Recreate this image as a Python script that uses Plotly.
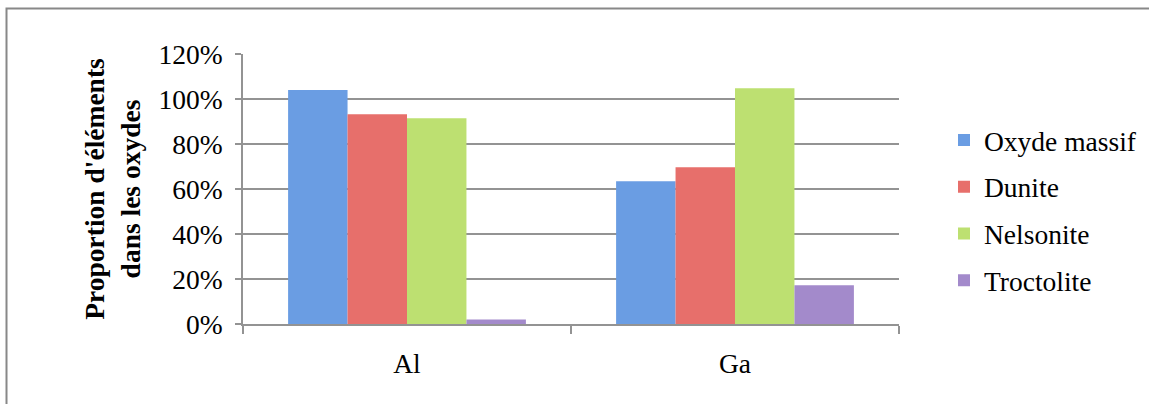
import plotly.graph_objects as go

# Elements and oxide-hosted proportions per rock type
elements = ["Al", "Ga"]
oxyde_massif = [1.04, 0.635]
dunite = [0.932, 0.697]
nelsonite = [0.915, 1.048]
troctolite = [0.02, 0.172]

series_names = ["Oxyde massif", "Dunite", "Nelsonite", "Troctolite"]
series_values = [oxyde_massif, dunite, nelsonite, troctolite]
series_colors = ["#6a9de3", "#e76f6b", "#bde071", "#a38acb"]

y_ticks = [0, 0.2, 0.4, 0.6, 0.8, 1.0, 1.2]

FONT = "Liberation Serif"
FS = 27.5
W, H = 1149, 404
ML, MR, MT, MB = 243, 250, 54, 80

fig = go.Figure()
for i, (name, vals, col) in enumerate(zip(series_names, series_values, series_colors)):
    fig.add_trace(go.Bar(
        x=elements, y=vals, name=name,
        marker=dict(color=col, line=dict(width=0)),
        legendgroup=f"g{i}",
    ))

pw = W - ML - MR
ph = H - MT - MB
# outer frame of the chart
fig.add_shape(type="rect", xref="paper", yref="paper",
              x0=(6.5 - ML) / pw, x1=(1170 - ML) / pw,
              y0=(H - MB - 420) / ph, y1=(H - MB - 8.5) / ph,
              line=dict(color="#888888", width=2), layer="below")

fig.update_layout(
    width=W, height=H,
    margin=dict(l=ML, r=MR, t=MT, b=MB, autoexpand=False),
    paper_bgcolor="white", plot_bgcolor="white",
    barmode="group", bargap=0.275, bargroupgap=0,
    font=dict(family=FONT, size=FS, color="black"),
    legend=dict(x=(944 - ML) / pw, y=(H - MB - 210) / ph,
                xanchor="left", yanchor="middle",
                font=dict(family=FONT, size=FS), tracegroupgap=8,
                itemwidth=30, bgcolor="rgba(0,0,0,0)"),
    showlegend=True,
)
fig.update_yaxes(
    range=[0, 1.2], tickvals=y_ticks, tickformat=".0%",
    showgrid=True, gridcolor="#939393", gridwidth=1.5,
    showline=True, linecolor="#939393", linewidth=1.5,
    ticks="outside", ticklen=6, tickcolor="#939393", tickwidth=1.5,
    ticklabelstandoff=7,
    title=dict(text="<b>Proportion d'éléments<br>dans les oxydes</b>",
               font=dict(family=FONT, size=FS), standoff=10),
    zeroline=False,
)
fig.update_xaxes(
    showline=True, linecolor="#939393", linewidth=1.5,
    ticks="outside", tickson="boundaries", ticklen=8,
    tickcolor="#939393", tickwidth=1.5,
    ticklabelstandoff=14,
)

fig.write_html("out.html")
